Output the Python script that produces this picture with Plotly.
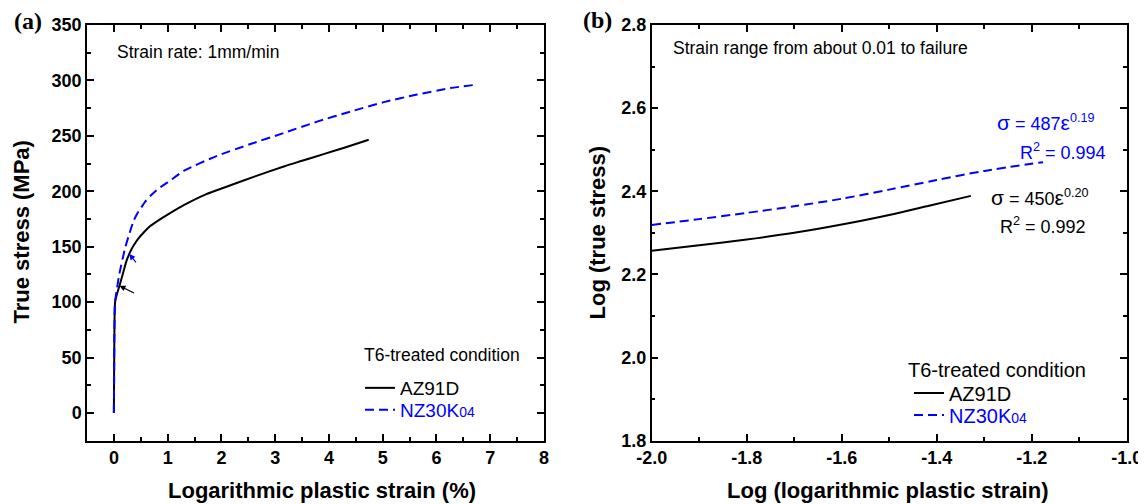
import plotly.graph_objects as go

# ---------------- data ----------------
# Panel (a): true stress vs logarithmic plastic strain (%)
az_strain = [0.0, 0.005, 0.01, 0.015, 0.025, 0.05, 0.104, 0.17, 0.23, 0.29, 0.33, 0.37, 0.45, 0.55,
             0.676, 0.85, 1.0, 1.30, 1.7, 2.17, 2.6, 3.16, 3.5, 3.90, 4.3, 4.74]
az_stress = [0.0, 40, 75, 92, 101, 106, 114.8, 126, 136.5, 144, 148, 151.3, 157, 162.6,
             168.6, 174.5, 179, 187.5, 197, 205.4, 213, 222.4, 227.5, 233.5, 239.5, 246.5]
nz_strain = [0.0, 0.005, 0.01, 0.02, 0.04, 0.1, 0.21, 0.29, 0.365, 0.43, 0.49, 0.58, 0.676, 0.83,
             1.0, 1.30, 1.92, 2.54, 3.16, 3.78, 4.40, 5.02, 5.64, 6.26, 6.73]
nz_stress = [0.0, 40, 75, 100, 106.7, 125, 149, 162, 173, 179.5, 184, 190.5, 195.7, 202.5,
             208, 218.4, 232, 242.6, 252.6, 262.8, 271.9, 280.4, 287.3, 293.1, 296.1]

# Panel (b): log-log
az_logstrain = [-2.0, -1.9, -1.8, -1.7, -1.6, -1.5, -1.414, -1.328]
az_logstress = [2.257, 2.270, 2.284, 2.300, 2.320, 2.343, 2.366, 2.389]
nz_logstrain = [-2.0, -1.9, -1.8, -1.7, -1.6, -1.5, -1.4, -1.3, -1.176]
nz_logstress = [2.319, 2.333, 2.348, 2.364, 2.382, 2.404, 2.427, 2.449, 2.470]

# tick labels
a_xticks = [0, 1, 2, 3, 4, 5, 6, 7, 8]
a_xlabels = ["0", "1", "2", "3", "4", "5", "6", "7", "8"]
a_yticks = [0, 50, 100, 150, 200, 250, 300, 350]
a_ylabels = ["0", "50", "100", "150", "200", "250", "300", "350"]
b_xticks = [-2.0, -1.8, -1.6, -1.4, -1.2, -1.0]
b_xlabels = ["-2.0", "-1.8", "-1.6", "-1.4", "-1.2", "-1.0"]
b_yticks = [1.8, 2.0, 2.2, 2.4, 2.6, 2.8]
b_ylabels = ["1.8", "2.0", "2.2", "2.4", "2.6", "2.8"]

series_names = ["AZ91D", "NZ30K<span style='font-size:14px'>04</span>"]

# ---------------- figure ----------------
# the page body has an 8px default margin, so the figure is offset by 8px
OFF = 8
W, H = 1146 - OFF, 504 - OFF
def px(xp):
    return (xp - OFF) / W
def py(yp):
    return 1 - (yp - OFF) / H

SANS = "Liberation Sans, Arial, Helvetica, sans-serif"
SERIF = "Liberation Serif, Times New Roman, serif"
BLUE = "#0000FF"
DASH = "9px,5px"

fig = go.Figure()

fig.add_trace(go.Scatter(x=az_strain, y=az_stress, mode="lines", name=series_names[0],
                         line=dict(color="black", width=2, shape="spline", smoothing=0.6),
                         xaxis="x", yaxis="y", legend="legend"))
fig.add_trace(go.Scatter(x=nz_strain, y=nz_stress, mode="lines",
                         name="<span style='color:#0000FF'>" + series_names[1] + "</span>",
                         line=dict(color=BLUE, width=2, dash=DASH, shape="spline", smoothing=0.6),
                         xaxis="x", yaxis="y", legend="legend2"))
fig.add_trace(go.Scatter(x=az_logstrain, y=az_logstress, mode="lines", name=series_names[0],
                         line=dict(color="black", width=2, shape="spline", smoothing=0.8),
                         xaxis="x2", yaxis="y2", legend="legend3"))
fig.add_trace(go.Scatter(x=nz_logstrain, y=nz_logstress, mode="lines",
                         name="<span style='color:#0000FF'>" + series_names[1] + "</span>",
                         line=dict(color=BLUE, width=2, dash=DASH, shape="spline", smoothing=0.8),
                         xaxis="x2", yaxis="y2", legend="legend4"))

axis_common = dict(
    showline=True, linecolor="black", linewidth=1.5, mirror="ticks",
    ticks="inside", ticklen=7, tickwidth=1.5, tickcolor="black",
    showgrid=False, zeroline=False, tickmode="array", automargin=False,
    tickfont=dict(family=SANS, size=18, color="black", weight="bold"),
    fixedrange=True,
)

def minor(t0, dt):
    return dict(ticks="inside", ticklen=4, tickwidth=1.5, tickcolor="black",
                tickmode="linear", tick0=t0, dtick=dt)

xa_dom = [px(87), px(544)]
xb_dom = [px(651.7), px(1126.7)]
y_dom = [py(440.7), py(25)]

def leg(x, y, size):
    return dict(x=px(x), y=py(y), xanchor="left", yanchor="middle", bgcolor="rgba(0,0,0,0)",
                font=dict(family=SANS, size=size, color="black"), tracegroupgap=0, itemwidth=30,
                borderwidth=0)

fig.update_layout(
    width=W, height=H,
    margin=dict(l=0, r=0, t=0, b=0, pad=0, autoexpand=False),
    paper_bgcolor="white", plot_bgcolor="white",
    xaxis=dict(domain=xa_dom, range=[-0.5, 8], tickvals=a_xticks, ticktext=a_xlabels, anchor="y",
               minor=minor(0, 0.5), **axis_common),
    yaxis=dict(domain=y_dom, range=[-25, 350], tickvals=a_yticks, ticktext=a_ylabels, anchor="x",
               minor=minor(0, 25), **axis_common),
    xaxis2=dict(domain=xb_dom, range=[-2.0, -1.0], tickvals=b_xticks, ticktext=b_xlabels, anchor="y2",
                minor=minor(-2.0, 0.1), **axis_common),
    yaxis2=dict(domain=y_dom, range=[1.8, 2.8], tickvals=b_yticks, ticktext=b_ylabels, anchor="x2",
                minor=minor(1.8, 0.1), **axis_common),
    legend=leg(360, 388, 19),
    legend2=leg(360, 410, 19),
    legend3=leg(909, 393, 20),
    legend4=leg(909, 415, 20),
    showlegend=True,
)

ann = []
def txt(x, y, text, size, color="black", xanchor="left", yanchor="middle", family=SANS, bold=False, angle=0):
    ann.append(dict(x=px(x), y=py(y), xref="paper", yref="paper", text=text, showarrow=False,
                    xanchor=xanchor, yanchor=yanchor, textangle=angle,
                    font=dict(family=family, size=size, color=color, weight="bold" if bold else "normal")))

BIG = "<span style='font-size:21px'>"
# panel labels
txt(28, 21, "(a)", 24, xanchor="center", family=SERIF, bold=True)
txt(597, 20, "(b)", 24, xanchor="center", family=SERIF, bold=True)
# axis titles
txt(322, 490, "Logarithmic plastic strain (%)", 22, xanchor="center", bold=True)
txt(21, 232.5, "True stress (MPa)", 22, xanchor="center", bold=True, angle=-90)
txt(887, 490, "Log (logarithmic plastic strain)", 22, xanchor="center", bold=True)
txt(597, 232.5, "Log (true stress)", 22, xanchor="center", bold=True, angle=-90)
# in-plot texts
txt(115, 52, "Strain rate: 1mm/min", 17.5)
txt(671, 48, "Strain range from about 0.01 to failure", 17.5)
txt(362, 355, "T6-treated condition", 17.5)
txt(906, 370, "T6-treated condition", 20)
# fitted equations
txt(995, 122, BIG + "σ</span> = 487" + BIG + "ε</span><sup>0.19</sup>", 18, color=BLUE)
txt(1108, 151, "R<sup>2</sup> = 0.994", 18, color=BLUE, xanchor="right")
txt(989, 197, BIG + "σ</span> = 450" + BIG + "ε</span><sup>0.20</sup>", 18)
txt(1088, 226, "R<sup>2</sup> = 0.992", 18, xanchor="right")

# arrows in panel (a)
ann.append(dict(x=0.104, y=114.8, xref="x", yref="y", ax=16, ay=8, showarrow=True,
                arrowhead=2, arrowsize=1, arrowwidth=1.2, arrowcolor="black", text=""))
ann.append(dict(x=0.285, y=143.5, xref="x", yref="y", ax=8, ay=10, showarrow=True,
                arrowhead=2, arrowsize=1, arrowwidth=1.2, arrowcolor=BLUE, text=""))

fig.update_layout(annotations=ann)

fig.write_html("out.html")
